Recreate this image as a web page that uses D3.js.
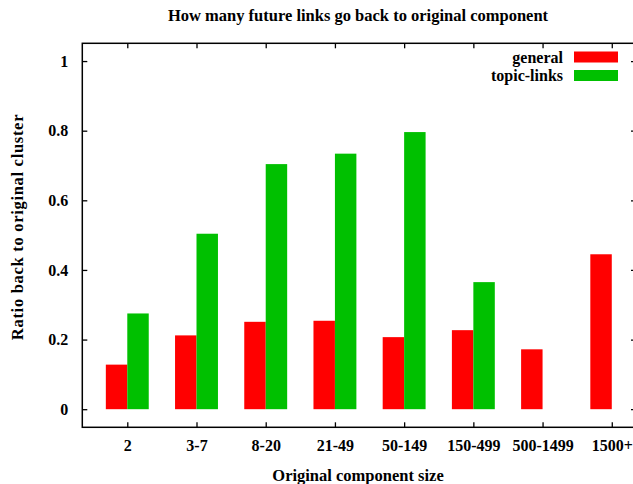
<!DOCTYPE html>
<html>
<head>
<meta charset="utf-8">
<script src="https://cdn.jsdelivr.net/npm/d3@7"></script>
<style>
  html, body { margin: 0; padding: 0; background: #fff; }
  svg { display: block; }
  text { font-family: "Liberation Serif", "Times New Roman", serif; fill: #000; }
</style>
</head>
<body>
<script>
// Component size buckets and the share of future links that return to the original component
const categories = ["2", "3-7", "8-20", "21-49", "50-149", "150-499", "500-1499", "1500+"];
const generalValues = [0.128, 0.212, 0.251, 0.254, 0.207, 0.227, 0.172, 0.445];
const topicLinkValues = [0.275, 0.504, 0.704, 0.734, 0.796, 0.365, null, null];
const yTickValues = [0, 0.2, 0.4, 0.6, 0.8, 1];
const seriesNames = ["general", "topic-links"];
const seriesColors = ["#ff0000", "#00c000"];

const W = 633, H = 484;
const frame = { left: 82.3, right: 636, top: 43.3, bottom: 427.3 };

const svg = d3.select("body").append("svg")
  .attr("width", W).attr("height", H);

const x = d3.scaleLinear().domain([-0.65, categories.length - 0.65]).range([frame.left, frame.right]);
const y = d3.scaleLinear().domain([-0.052, 1.051]).range([frame.bottom, frame.top]);
const barW = 0.31;

// Bars: "general" sits left of the category tick, "topic-links" right of it
const series = [generalValues, topicLinkValues];
series.forEach((vals, s) => {
  svg.append("g").selectAll("rect")
    .data(vals.map((v, i) => ({ v, i })).filter(d => d.v != null))
    .join("rect")
    .attr("x", d => s === 0 ? x(d.i - barW) : x(d.i))
    .attr("width", d => x(d.i + barW) - x(d.i))
    .attr("y", d => y(d.v))
    .attr("height", d => y(0) - y(d.v))
    .attr("fill", seriesColors[s]);
});

// Axes with inward ticks on all four sides
const fontTick = "bold 16px 'Liberation Serif', serif";

const axisL = svg.append("g").attr("transform", `translate(${frame.left},0)`)
  .call(d3.axisLeft(y).tickValues(yTickValues).tickFormat(d3.format("~g"))
    .tickSizeInner(-5).tickSizeOuter(0).tickPadding(14));
const axisR = svg.append("g").attr("transform", `translate(${frame.right},0)`)
  .call(d3.axisRight(y).tickValues(yTickValues).tickFormat("")
    .tickSizeInner(-5).tickSizeOuter(0));
const axisB = svg.append("g").attr("transform", `translate(0,${frame.bottom})`)
  .call(d3.axisBottom(x).tickValues(d3.range(categories.length)).tickFormat(i => categories[i])
    .tickSizeInner(-5).tickSizeOuter(0).tickPadding(12));
const axisT = svg.append("g").attr("transform", `translate(0,${frame.top})`)
  .call(d3.axisTop(x).tickValues(d3.range(categories.length)).tickFormat("")
    .tickSizeInner(-5).tickSizeOuter(0));

[axisL, axisR, axisB, axisT].forEach(g => {
  g.select(".domain").remove();
  g.selectAll(".tick line").attr("stroke", "#000").attr("stroke-width", 1.3);
  g.selectAll(".tick text").style("font", fontTick).attr("fill", "#000");
});

// Frame
svg.append("rect")
  .attr("x", frame.left).attr("y", frame.top)
  .attr("width", frame.right - frame.left).attr("height", frame.bottom - frame.top)
  .attr("fill", "none").attr("stroke", "#000").attr("stroke-width", 1.5);

// Legend
const legend = svg.append("g");
seriesNames.forEach((name, s) => {
  const cy = 57 + s * 18.5;
  legend.append("text")
    .attr("x", 563).attr("y", cy + 5.5)
    .attr("text-anchor", "end")
    .style("font", fontTick)
    .text(name);
  legend.append("rect")
    .attr("x", 574).attr("y", cy - 5.5)
    .attr("width", 44).attr("height", 11)
    .attr("fill", seriesColors[s]);
});

// Titles
svg.append("text")
  .attr("x", 358).attr("y", 21)
  .attr("text-anchor", "middle")
  .style("font", "bold 16.5px 'Liberation Serif', serif")
  .text("How many future links go back to original component");

svg.append("text")
  .attr("x", 358).attr("y", 481)
  .attr("text-anchor", "middle")
  .style("font", "bold 16.5px 'Liberation Serif', serif")
  .text("Original component size");

svg.append("text")
  .attr("transform", `translate(23,227) rotate(-90)`)
  .attr("text-anchor", "middle")
  .style("font", "bold 16.5px 'Liberation Serif', serif")
  .style("letter-spacing", "0.7px")
  .text("Ratio back to original cluster");
</script>
</body>
</html>
